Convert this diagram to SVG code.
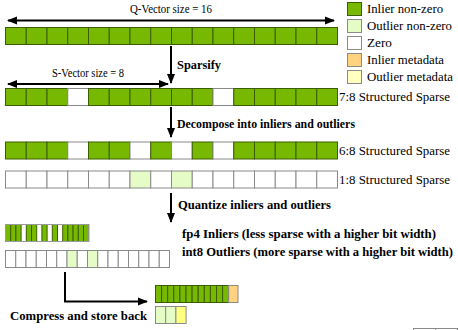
<svg xmlns="http://www.w3.org/2000/svg" width="458" height="330" viewBox="0 0 458 330">
<defs>
<marker id="ah" viewBox="0 0 10 10" refX="9" refY="5" markerWidth="5" markerHeight="5" orient="auto-start-reverse" markerUnits="strokeWidth">
<path d="M0,1 L10,5 L0,9 Z" fill="#000"/>
</marker>
</defs>

<g id="legend" stroke="#8a8a8a" stroke-width="1">
<rect fill="#76b900" stroke="#3d5e00" x="347.5" y="2.5" width="14" height="13"/>
<rect fill="#e6fcc6" x="347.5" y="19.5" width="14" height="13"/>
<rect fill="#ffffff" x="347.5" y="36.5" width="14" height="13"/>
<rect fill="#ffd280" x="347.5" y="53.5" width="14" height="13"/>
<rect fill="#ffffc0" x="347.5" y="70.5" width="14" height="13"/>
</g>
<g id="legend-text" fill="#000" stroke="none">
<text x="367" y="13" font-family="Liberation Serif" font-size="13" textLength="76" lengthAdjust="spacingAndGlyphs">Inlier non-zero</text>
<text x="367" y="30" font-family="Liberation Serif" font-size="13" textLength="85" lengthAdjust="spacingAndGlyphs">Outlier non-zero</text>
<text x="367" y="47" font-family="Liberation Serif" font-size="13" textLength="25" lengthAdjust="spacingAndGlyphs">Zero</text>
<text x="367" y="64" font-family="Liberation Serif" font-size="13" textLength="77" lengthAdjust="spacingAndGlyphs">Inlier metadata</text>
<text x="367" y="81" font-family="Liberation Serif" font-size="13" textLength="86" lengthAdjust="spacingAndGlyphs">Outlier metadata</text>
</g>

<g id="connectors" stroke="#000" stroke-width="2" fill="none">
<line x1="8" y1="20.5" x2="334" y2="20.5" marker-start="url(#ah)" marker-end="url(#ah)"/>
<line x1="8" y1="84" x2="168" y2="84" marker-start="url(#ah)" marker-end="url(#ah)"/>
<line x1="171" y1="46" x2="171" y2="83" marker-end="url(#ah)"/>
<line x1="171" y1="107" x2="171" y2="137" marker-end="url(#ah)"/>
<line x1="171" y1="193" x2="171" y2="222" marker-end="url(#ah)"/>
<polyline points="65,272 65,301.5 147,301.5" marker-end="url(#ah)"/>
</g>

<g id="labels" fill="#000">
<text x="130" y="13" font-family="Liberation Serif" font-size="13" textLength="82" lengthAdjust="spacingAndGlyphs">Q-Vector size = 16</text>
<text x="52" y="77" font-family="Liberation Serif" font-size="13" textLength="72" lengthAdjust="spacingAndGlyphs">S-Vector size = 8</text>
<text x="177" y="69" font-weight="bold" font-family="Liberation Serif" font-size="13" textLength="44" lengthAdjust="spacingAndGlyphs">Sparsify</text>
<text x="177" y="128" font-weight="bold" font-family="Liberation Serif" font-size="13" textLength="178" lengthAdjust="spacingAndGlyphs">Decompose into inliers and outliers</text>
<text x="178" y="209" font-weight="bold" font-family="Liberation Serif" font-size="13" textLength="153" lengthAdjust="spacingAndGlyphs">Quantize inliers and outliers</text>
<text x="182" y="238" font-weight="bold" font-family="Liberation Serif" font-size="13" textLength="254" lengthAdjust="spacingAndGlyphs">fp4 Inliers (less sparse with a higher bit width)</text>
<text x="182" y="256" font-weight="bold" font-family="Liberation Serif" font-size="13" textLength="271" lengthAdjust="spacingAndGlyphs">int8 Outliers (more sparse with a higher bit width)</text>
<text x="10" y="320" font-weight="bold" font-family="Liberation Serif" font-size="13" textLength="137" lengthAdjust="spacingAndGlyphs">Compress and store back</text>
<text x="339" y="101" font-family="Liberation Serif" font-size="13" textLength="111" lengthAdjust="spacingAndGlyphs">7:8 Structured Sparse</text>
<text x="339" y="155" font-family="Liberation Serif" font-size="13" textLength="111" lengthAdjust="spacingAndGlyphs">6:8 Structured Sparse</text>
<text x="339" y="184" font-family="Liberation Serif" font-size="13" textLength="111" lengthAdjust="spacingAndGlyphs">1:8 Structured Sparse</text>
</g>

<g id="qvector" fill="#76b900" stroke="#3d5e00" stroke-width="1">
<rect x="5.5" y="27.5" width="20.75" height="17"/><rect x="26.25" y="27.5" width="20.75" height="17"/><rect x="47" y="27.5" width="20.75" height="17"/><rect x="67.75" y="27.5" width="20.75" height="17"/><rect x="88.5" y="27.5" width="20.75" height="17"/><rect x="109.25" y="27.5" width="20.75" height="17"/><rect x="130" y="27.5" width="20.75" height="17"/><rect x="150.75" y="27.5" width="20.75" height="17"/><rect x="171.5" y="27.5" width="20.75" height="17"/><rect x="192.25" y="27.5" width="20.75" height="17"/><rect x="213" y="27.5" width="20.75" height="17"/><rect x="233.75" y="27.5" width="20.75" height="17"/><rect x="254.5" y="27.5" width="20.75" height="17"/><rect x="275.25" y="27.5" width="20.75" height="17"/><rect x="296" y="27.5" width="20.75" height="17"/><rect x="316.75" y="27.5" width="20.75" height="17"/>
</g>

<g id="sparse78" fill="#76b900" stroke="#3d5e00" stroke-width="1">
<rect x="5.5" y="88.5" width="20.75" height="17"/><rect x="26.25" y="88.5" width="20.75" height="17"/><rect x="47" y="88.5" width="20.75" height="17"/><rect fill="#fff" stroke="#8a8a8a" x="67.75" y="88.5" width="20.75" height="17"/><rect x="88.5" y="88.5" width="20.75" height="17"/><rect x="109.25" y="88.5" width="20.75" height="17"/><rect x="130" y="88.5" width="20.75" height="17"/><rect x="150.75" y="88.5" width="20.75" height="17"/><rect x="171.5" y="88.5" width="20.75" height="17"/><rect x="192.25" y="88.5" width="20.75" height="17"/><rect fill="#fff" stroke="#8a8a8a" x="213" y="88.5" width="20.75" height="17"/><rect x="233.75" y="88.5" width="20.75" height="17"/><rect x="254.5" y="88.5" width="20.75" height="17"/><rect x="275.25" y="88.5" width="20.75" height="17"/><rect x="296" y="88.5" width="20.75" height="17"/><rect x="316.75" y="88.5" width="20.75" height="17"/>
</g>

<g id="sparse68" fill="#76b900" stroke="#3d5e00" stroke-width="1">
<rect x="5.5" y="142" width="20.75" height="17"/><rect x="26.25" y="142" width="20.75" height="17"/><rect x="47" y="142" width="20.75" height="17"/><rect fill="#fff" stroke="#8a8a8a" x="67.75" y="142" width="20.75" height="17"/><rect x="88.5" y="142" width="20.75" height="17"/><rect x="109.25" y="142" width="20.75" height="17"/><rect fill="#fff" stroke="#8a8a8a" x="130" y="142" width="20.75" height="17"/><rect x="150.75" y="142" width="20.75" height="17"/><rect fill="#fff" stroke="#8a8a8a" x="171.5" y="142" width="20.75" height="17"/><rect x="192.25" y="142" width="20.75" height="17"/><rect fill="#fff" stroke="#8a8a8a" x="213" y="142" width="20.75" height="17"/><rect x="233.75" y="142" width="20.75" height="17"/><rect x="254.5" y="142" width="20.75" height="17"/><rect x="275.25" y="142" width="20.75" height="17"/><rect x="296" y="142" width="20.75" height="17"/><rect x="316.75" y="142" width="20.75" height="17"/>
</g>

<g id="sparse18" fill="#fff" stroke="#8a8a8a" stroke-width="1">
<rect x="5.5" y="171" width="20.75" height="17"/><rect x="26.25" y="171" width="20.75" height="17"/><rect x="47" y="171" width="20.75" height="17"/><rect x="67.75" y="171" width="20.75" height="17"/><rect x="88.5" y="171" width="20.75" height="17"/><rect x="109.25" y="171" width="20.75" height="17"/><rect fill="#e6fcc6" x="130" y="171" width="20.75" height="17"/><rect x="150.75" y="171" width="20.75" height="17"/><rect fill="#e6fcc6" x="171.5" y="171" width="20.75" height="17"/><rect x="192.25" y="171" width="20.75" height="17"/><rect x="213" y="171" width="20.75" height="17"/><rect x="233.75" y="171" width="20.75" height="17"/><rect x="254.5" y="171" width="20.75" height="17"/><rect x="275.25" y="171" width="20.75" height="17"/><rect x="296" y="171" width="20.75" height="17"/><rect x="316.75" y="171" width="20.75" height="17"/>
</g>

<g id="fp4inliers" fill="#76b900" stroke="#3d5e00" stroke-width="1">
<rect x="5.5" y="224.5" width="5.2" height="17"/><rect x="10.7" y="224.5" width="5.2" height="17"/><rect x="15.9" y="224.5" width="5.2" height="17"/><rect x="26.3" y="224.5" width="5.2" height="17"/><rect x="31.5" y="224.5" width="5.2" height="17"/><rect x="41.9" y="224.5" width="5.2" height="17"/><rect x="52.3" y="224.5" width="5.2" height="17"/><rect x="62.7" y="224.5" width="5.2" height="17"/><rect x="67.9" y="224.5" width="5.2" height="17"/><rect x="73.1" y="224.5" width="5.2" height="17"/><rect x="78.3" y="224.5" width="5.2" height="17"/><rect x="83.5" y="224.5" width="5.2" height="17"/>
<rect x="5.5" y="224.5" width="83.2" height="17" fill="none" stroke="#9a9a9a"/>
</g>

<g id="int8outliers" fill="#fff" stroke="#8a8a8a" stroke-width="1">
<rect x="5.5" y="250.5" width="10.25" height="17"/><rect x="15.75" y="250.5" width="10.25" height="17"/><rect x="26" y="250.5" width="10.25" height="17"/><rect x="36.25" y="250.5" width="10.25" height="17"/><rect x="46.5" y="250.5" width="10.25" height="17"/><rect x="56.75" y="250.5" width="10.25" height="17"/><rect fill="#e6fcc6" x="67" y="250.5" width="10.25" height="17"/><rect x="77.25" y="250.5" width="10.25" height="17"/><rect fill="#e6fcc6" x="87.5" y="250.5" width="10.25" height="17"/><rect x="97.75" y="250.5" width="10.25" height="17"/><rect x="108" y="250.5" width="10.25" height="17"/><rect x="118.25" y="250.5" width="10.25" height="17"/><rect x="128.5" y="250.5" width="10.25" height="17"/><rect x="138.75" y="250.5" width="10.25" height="17"/><rect x="149" y="250.5" width="10.25" height="17"/><rect x="159.25" y="250.5" width="10.25" height="17"/>
</g>

<g id="compressedinliers" fill="#76b900" stroke="#3d5e00" stroke-width="1">
<rect x="155.5" y="285.5" width="6.1" height="17"/><rect x="161.6" y="285.5" width="6.1" height="17"/><rect x="167.7" y="285.5" width="6.1" height="17"/><rect x="173.8" y="285.5" width="6.1" height="17"/><rect x="179.9" y="285.5" width="6.1" height="17"/><rect x="186" y="285.5" width="6.1" height="17"/><rect x="192.1" y="285.5" width="6.1" height="17"/><rect x="198.2" y="285.5" width="6.1" height="17"/><rect x="204.3" y="285.5" width="6.1" height="17"/><rect x="210.4" y="285.5" width="6.1" height="17"/><rect x="216.5" y="285.5" width="6.1" height="17"/><rect x="222.6" y="285.5" width="6.1" height="17"/>
<rect fill="#ffd280" stroke="#8a8a8a" x="228.7" y="285.5" width="9.3" height="17"/>
</g>

<g id="compressedoutliers" stroke="#8a8a8a" stroke-width="1">
<rect fill="#e6fcc6" x="155.5" y="306.5" width="10.2" height="17"/><rect fill="#e6fcc6" x="165.7" y="306.5" width="10.2" height="17"/><rect fill="#ffff80" x="175.9" y="306.5" width="10.2" height="17"/>
</g>

<g id="corner" fill="#fff" stroke="#8a8a8a" stroke-width="1">
<rect x="413.5" y="328.5" width="22" height="4"/>
<rect x="435.5" y="328.5" width="22" height="4"/>
</g>
</svg>
